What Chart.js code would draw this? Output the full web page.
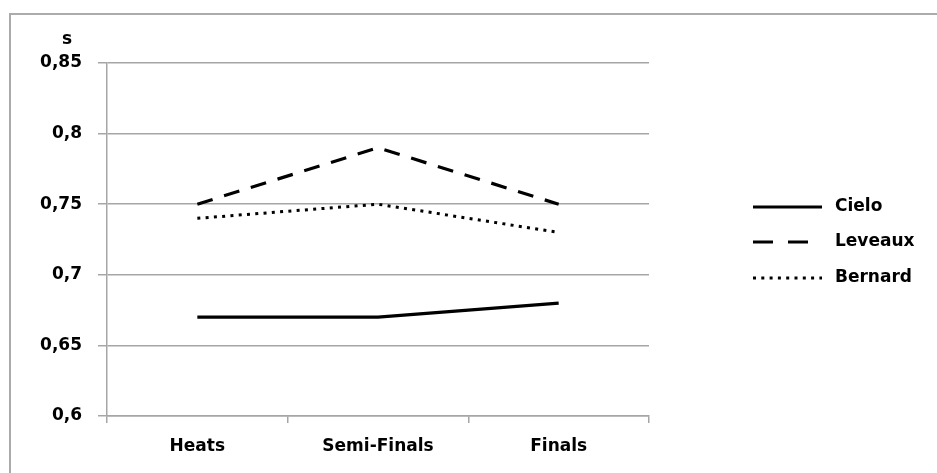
<!DOCTYPE html>
<html>
<head>
<meta charset="utf-8">
<script src="https://cdn.jsdelivr.net/npm/chart.js@4/dist/chart.umd.min.js"></script>
<style>
  html, body { margin: 0; padding: 0; background: #fff; }
  #stage { position: relative; width: 937px; height: 473px; overflow: hidden; }
  #frame { position: absolute; left: 9px; top: 13px; width: 1000px; height: 1000px;
           border-left: 2px solid #ababab; border-top: 2px solid #ababab; }
  #c { position: absolute; left: 0; top: 0; }
</style>
</head>
<body>
<div id="stage">
  <div id="frame"></div>
  <canvas id="c" width="937" height="473"></canvas>
</div>
<script>
// Reaction times (s) per round
const rounds = ['Heats', 'Semi-Finals', 'Finals'];
const cielo = [0.67, 0.67, 0.68];
const leveaux = [0.75, 0.79, 0.75];
const bernard = [0.74, 0.75, 0.73];
const yTicks = [0.6, 0.65, 0.7, 0.75, 0.8, 0.85];
const unitLabel = 's';

const FONT = { family: '"DejaVu Sans", sans-serif', size: 17, weight: 'bold' };
const GRID = '#a6a6a6';

const fmt = v => String(Math.round(v * 100) / 100).replace('.', ',');

// Legend drawn with real line samples next to each series name
const lineLegend = {
  id: 'lineLegend',
  afterDraw(chart) {
    const ctx = chart.ctx;
    const x0 = 753, x1 = 822, tx = 835;
    const ys = [207, 242, 278];
    chart.data.datasets.forEach((ds, i) => {
      ctx.save();
      ctx.strokeStyle = ds.borderColor;
      ctx.lineWidth = ds.borderWidth;
      ctx.lineCap = 'butt';
      ctx.setLineDash(ds.legendDash || ds.borderDash || []);
      ctx.beginPath();
      ctx.moveTo(x0, ys[i]);
      ctx.lineTo(x1, ys[i]);
      ctx.stroke();
      ctx.setLineDash([]);
      ctx.fillStyle = '#000';
      ctx.font = `${FONT.weight} ${FONT.size}px ${FONT.family}`;
      ctx.textBaseline = 'middle';
      ctx.textAlign = 'left';
      ctx.fillText(ds.label, tx, ys[i]);
      ctx.restore();
    });
  }
};

// Unit caption above the value axis
const unitCaption = {
  id: 'unitCaption',
  afterDraw(chart) {
    const ctx = chart.ctx;
    const y = chart.scales.y;
    ctx.save();
    ctx.fillStyle = '#000';
    ctx.font = `${FONT.weight} ${FONT.size}px ${FONT.family}`;
    ctx.textAlign = 'center';
    ctx.textBaseline = 'middle';
    ctx.fillText(unitLabel, 67, y.top - 23);
    ctx.restore();
  }
};

new Chart(document.getElementById('c'), {
  type: 'line',
  data: {
    labels: rounds,
    datasets: [
      { label: 'Cielo', data: cielo, borderColor: '#000', borderWidth: 3.2,
        pointRadius: 0, tension: 0 },
      { label: 'Leveaux', data: leveaux, borderColor: '#000', borderWidth: 3.2,
        borderDash: [16, 12], legendDash: [20, 15], pointRadius: 0, tension: 0 },
      { label: 'Bernard', data: bernard, borderColor: '#000', borderWidth: 3,
        borderDash: [3, 5.3], legendDash: [3, 5.3], pointRadius: 0, tension: 0 }
    ]
  },
  options: {
    responsive: false,
    animation: false,
    devicePixelRatio: 1,
    layout: { padding: { left: 0, top: 63, right: 288, bottom: 0 } },
    plugins: { legend: { display: false }, tooltip: { enabled: false } },
    scales: {
      x: {
        offset: true,
        grid: { offset: true, drawOnChartArea: false, drawTicks: true, tickLength: 7,
                color: GRID, lineWidth: 1.5 },
        border: { display: true, color: GRID, width: 1.5 },
        ticks: { color: '#000', font: FONT, padding: 13, maxRotation: 0 },
        afterFit(s) { s.height = 57; }
      },
      y: {
        min: 0.6, max: 0.85,
        afterBuildTicks(s) { s.ticks = yTicks.map(v => ({ value: v })); },
        grid: { color: GRID, lineWidth: 1.5, drawTicks: true, tickLength: 9 },
        border: { display: true, color: GRID, width: 1.5 },
        ticks: { color: '#000', font: FONT, padding: 16, callback: v => fmt(v) },
        afterFit(s) { s.width = 107; }
      }
    }
  },
  plugins: [lineLegend, unitCaption]
});
</script>
</body>
</html>
